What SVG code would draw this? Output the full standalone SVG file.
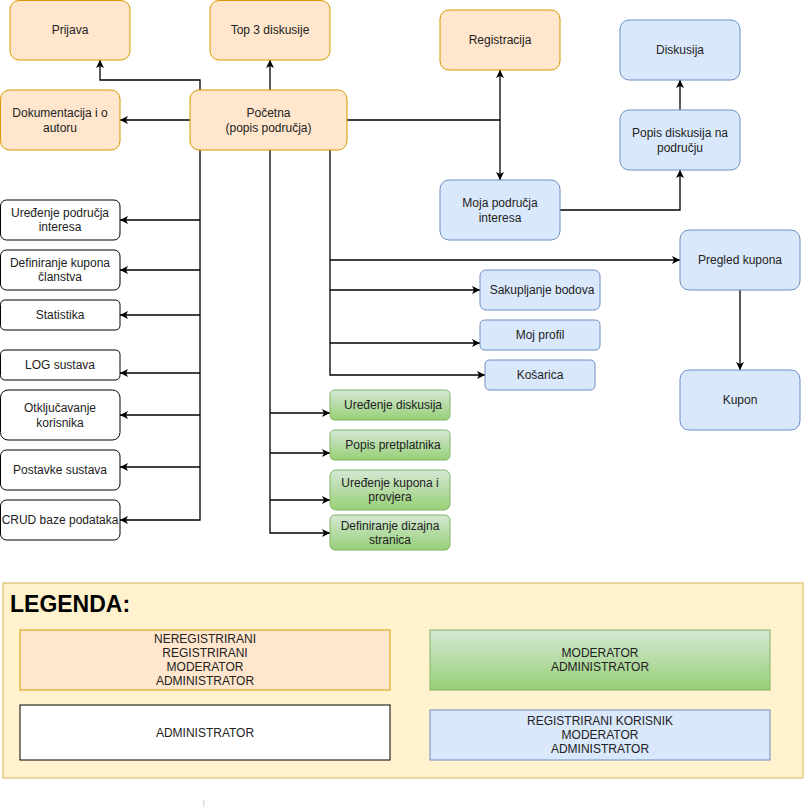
<svg xmlns="http://www.w3.org/2000/svg" width="804" height="807" viewBox="0 0 804 807">
  <style>
    .peach { fill: #ffe6cc; stroke: #d79b00; stroke-width: 1; }
    .blue { fill: #dae8fc; stroke: #6c8ebf; stroke-width: 1; }
    .green { fill: url(#greenGrad); stroke: #82b366; stroke-width: 1; }
    .white { fill: #ffffff; stroke: #000000; stroke-width: 1; }
    .lbl { font-family: "Liberation Sans", Arial, sans-serif; font-size: 12px; fill: #222; text-anchor: middle; dominant-baseline: central; }
    .edge { fill: none; stroke: #000; stroke-width: 1.3; }
    .arr { marker-end: url(#arrow); }
  </style>
  <defs>
    <linearGradient id="greenGrad" x1="0" y1="0" x2="0" y2="1">
      <stop offset="0" stop-color="#d5e8d4"/>
      <stop offset="1" stop-color="#97d077"/>
    </linearGradient>
    <marker id="arrow" markerUnits="userSpaceOnUse" markerWidth="10" markerHeight="10" refX="8" refY="4" orient="auto">
      <path d="M0,0 L8,4 L0,8 L2,4 Z" fill="#000"/>
    </marker>
    <marker id="arrowStart" markerUnits="userSpaceOnUse" markerWidth="10" markerHeight="10" refX="0" refY="4" orient="auto">
      <path d="M8,0 L0,4 L8,8 L6,4 Z" fill="#000"/>
    </marker>
  </defs>

  <rect width="804" height="807" fill="#ffffff"/>

  <!-- connectors -->
  <g id="connectors">
    <path class="edge arr" d="M200,90 L200,80 L100,80 L100,60"/>
    <path class="edge arr" d="M270,90 L270,60"/>
    <path class="edge arr" d="M190,120 L120,120"/>
    <path class="edge" d="M347,120 L500,120"/>
    <path class="edge arr" d="M500,120 L500,70"/>
    <path class="edge arr" d="M500,120 L500,180"/>
    <path class="edge arr" d="M560,210 L680,210 L680,170"/>
    <path class="edge arr" d="M680,110 L680,80"/>
    <path class="edge arr" d="M740,290 L740,370"/>

    <!-- left trunk: administrator pages -->
    <path class="edge arr" d="M200,150 L200,520 L120,520"/>
    <path class="edge arr" d="M200,220 L120,220"/>
    <path class="edge arr" d="M200,270 L120,270"/>
    <path class="edge arr" d="M200,315 L120,315"/>
    <path class="edge arr" d="M200,373 L120,373"/>
    <path class="edge arr" d="M200,415 L120,415"/>
    <path class="edge arr" d="M200,467 L120,467"/>

    <!-- middle trunk: moderator pages -->
    <path class="edge arr" d="M270,150 L270,533 L330,533"/>
    <path class="edge arr" d="M270,413 L330,413"/>
    <path class="edge arr" d="M270,453 L330,453"/>
    <path class="edge arr" d="M270,500 L330,500"/>

    <!-- right trunk: registered user pages -->
    <path class="edge arr" d="M330,150 L330,375 L485,375"/>
    <path class="edge arr" d="M330,260 L680,260"/>
    <path class="edge arr" d="M330,290 L480,290"/>
    <path class="edge arr" d="M330,343 L480,343"/>
  </g>

  <!-- top row -->
  <g id="prijava">
    <rect class="peach" x="10" y="0.5" width="120" height="59.5" rx="9"/>
    <text class="lbl" x="70" y="30">Prijava</text>
  </g>
  <g id="top3">
    <rect class="peach" x="210" y="0.5" width="120" height="59.5" rx="9"/>
    <text class="lbl" x="270" y="30">Top 3 diskusije</text>
  </g>
  <g id="dokumentacija">
    <rect class="peach" x="0.5" y="90" width="119.5" height="60" rx="9"/>
    <text class="lbl" x="60" y="113">Dokumentacija i o</text>
    <text class="lbl" x="60" y="128">autoru</text>
  </g>
  <g id="pocetna">
    <rect class="peach" x="190" y="90" width="157" height="60" rx="9"/>
    <text class="lbl" x="268.5" y="113">Početna</text>
    <text class="lbl" x="268.5" y="128">(popis područja)</text>
  </g>
  <g id="registracija">
    <rect class="peach" x="440" y="10" width="120" height="60" rx="9"/>
    <text class="lbl" x="500" y="40">Registracija</text>
  </g>

  <!-- registered user area -->
  <g id="diskusija">
    <rect class="blue" x="620" y="20" width="120" height="60" rx="9"/>
    <text class="lbl" x="680" y="50">Diskusija</text>
  </g>
  <g id="popis-diskusija">
    <rect class="blue" x="620" y="110" width="120" height="60" rx="9"/>
    <text class="lbl" x="680" y="133">Popis diskusija na</text>
    <text class="lbl" x="680" y="148">području</text>
  </g>
  <g id="moja-podrucja">
    <rect class="blue" x="440" y="180" width="120" height="60" rx="9"/>
    <text class="lbl" x="500" y="203">Moja područja</text>
    <text class="lbl" x="500" y="218">interesa</text>
  </g>
  <g id="pregled-kupona">
    <rect class="blue" x="680" y="230" width="120" height="60" rx="9"/>
    <text class="lbl" x="740" y="260">Pregled kupona</text>
  </g>
  <g id="kupon">
    <rect class="blue" x="680" y="370" width="120" height="60" rx="9"/>
    <text class="lbl" x="740" y="400">Kupon</text>
  </g>
  <g id="sakupljanje">
    <rect class="blue" x="480" y="270" width="120" height="40" rx="6"/>
    <text class="lbl" x="542" y="290">Sakupljanje bodova</text>
  </g>
  <g id="moj-profil">
    <rect class="blue" x="480" y="320" width="120" height="30" rx="4.5"/>
    <text class="lbl" x="540" y="335">Moj profil</text>
  </g>
  <g id="kosarica">
    <rect class="blue" x="485" y="360" width="110" height="30" rx="4.5"/>
    <text class="lbl" x="540" y="375">Košarica</text>
  </g>

  <!-- moderator area -->
  <g id="uredjenje-diskusija">
    <rect class="green" x="330" y="390" width="120" height="30" rx="4.5"/>
    <text class="lbl" x="393" y="405">Uređenje diskusija</text>
  </g>
  <g id="popis-pretplatnika">
    <rect class="green" x="330" y="430" width="120" height="30" rx="4.5"/>
    <text class="lbl" x="393" y="445">Popis pretplatnika</text>
  </g>
  <g id="uredjenje-kupona">
    <rect class="green" x="330" y="470" width="120" height="40" rx="6"/>
    <text class="lbl" x="390" y="483">Uređenje kupona i</text>
    <text class="lbl" x="390" y="497">provjera</text>
  </g>
  <g id="dizajn-stranica">
    <rect class="green" x="330" y="515" width="120" height="35" rx="5"/>
    <text class="lbl" x="390" y="526">Definiranje dizajna</text>
    <text class="lbl" x="390" y="540">stranica</text>
  </g>

  <!-- administrator area -->
  <g id="uredjenje-podrucja">
    <rect class="white" x="0.5" y="200" width="119.5" height="40" rx="6"/>
    <text class="lbl" x="60" y="213">Uređenje područja</text>
    <text class="lbl" x="60" y="227">interesa</text>
  </g>
  <g id="kuponi-clanstva">
    <rect class="white" x="0.5" y="250" width="119.5" height="40" rx="6"/>
    <text class="lbl" x="60" y="263">Definiranje kupona</text>
    <text class="lbl" x="60" y="277">članstva</text>
  </g>
  <g id="statistika">
    <rect class="white" x="0.5" y="300" width="119.5" height="30" rx="4.5"/>
    <text class="lbl" x="60" y="315">Statistika</text>
  </g>
  <g id="log-sustava">
    <rect class="white" x="0.5" y="350" width="119.5" height="30" rx="4.5"/>
    <text class="lbl" x="60" y="365">LOG sustava</text>
  </g>
  <g id="otkljucavanje">
    <rect class="white" x="0.5" y="390" width="119.5" height="50" rx="7.5"/>
    <text class="lbl" x="60" y="408">Otključavanje</text>
    <text class="lbl" x="60" y="423">korisnika</text>
  </g>
  <g id="postavke">
    <rect class="white" x="0.5" y="450" width="119.5" height="40" rx="6"/>
    <text class="lbl" x="60" y="470">Postavke sustava</text>
  </g>
  <g id="crud">
    <rect class="white" x="0.5" y="500" width="119.5" height="40" rx="6"/>
    <text class="lbl" x="60" y="520">CRUD baze podataka</text>
  </g>

  <!-- legend -->
  <g id="legenda">
    <rect x="3" y="583" width="800" height="195" fill="#fff2cc" stroke="#d6b656"/>
    <text x="10" y="612" font-family="'Liberation Sans', Arial, sans-serif" font-size="23" font-weight="bold" fill="#000">LEGENDA:</text>
    <rect class="peach" x="20" y="630" width="370" height="60"/>
    <text class="lbl" x="205" y="639">NEREGISTRIRANI</text>
    <text class="lbl" x="205" y="653">REGISTRIRANI</text>
    <text class="lbl" x="205" y="667">MODERATOR</text>
    <text class="lbl" x="205" y="681">ADMINISTRATOR</text>
    <rect class="green" x="430" y="630" width="340" height="60"/>
    <text class="lbl" x="600" y="653">MODERATOR</text>
    <text class="lbl" x="600" y="667">ADMINISTRATOR</text>
    <rect class="white" x="20" y="705" width="370" height="55"/>
    <text class="lbl" x="205" y="733">ADMINISTRATOR</text>
    <rect class="blue" x="430" y="710" width="340" height="50"/>
    <text class="lbl" x="600" y="721">REGISTRIRANI KORISNIK</text>
    <text class="lbl" x="600" y="735">MODERATOR</text>
    <text class="lbl" x="600" y="749">ADMINISTRATOR</text>
  </g>

  <rect x="203" y="800" width="1.5" height="7" fill="#e0e0e0"/>
</svg>
